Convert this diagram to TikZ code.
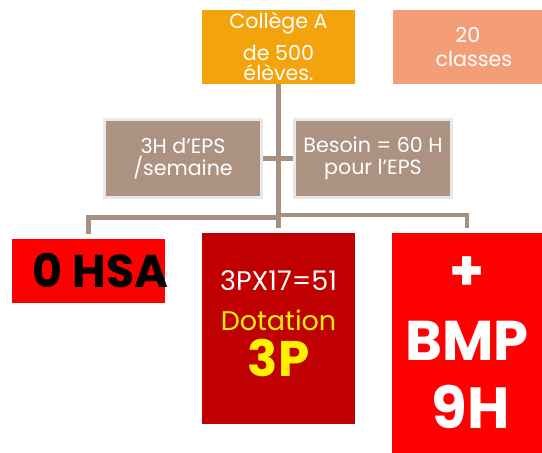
\documentclass[tikz,border=0pt]{standalone}
\usepackage{fontspec}
\setmainfont{Poppins}
\usetikzlibrary{positioning}

\definecolor{gold}{RGB}{243,164,12}
\definecolor{salmon}{RGB}{244,158,120}
\definecolor{taupe}{RGB}{172,146,128}
\definecolor{taupeline}{RGB}{168,144,128}
\definecolor{frame}{RGB}{232,232,232}
\definecolor{darkred}{RGB}{192,0,0}
\definecolor{brightred}{RGB}{255,0,0}

\begin{document}
\begin{tikzpicture}[
  x=0.5pt, y=-0.5pt,
  box/.style={rectangle, inner sep=0pt, align=center, text=white},
  topbox/.style={box, minimum height=37pt, font=\fontsize{10.3}{11}\selectfont},
  epsbox/.style={box, fill=taupe, draw=frame, line width=1.5pt, minimum width=78.5pt, minimum height=39pt, font=\fontsize{10.3}{11.2}\selectfont},
  drop/.style={draw=taupeline, line width=2.2pt, shorten >=2.2pt},
  link/.style={draw=taupeline, line width=2.2pt}
]
  \useasboundingbox (0,0) rectangle (542,453);

  \node[topbox, fill=gold, minimum width=76.5pt] (college) at (278.5,47)
    {Collège A\\[5pt]de 500\\[-1pt]élèves.};
  \node[topbox, fill=salmon, minimum width=75pt, right=18.5pt of college] (classes)
    {20\\[1pt]\hspace*{6pt}classes};

  \node[epsbox] (hebdo) at (183,158.5) {3H d’EPS\\/semaine};
  \node[epsbox] (besoin) at (373,158.5) {Besoin = 60 H\\pour l’EPS};

  \node[box, fill=brightred, minimum width=76.5pt, minimum height=32pt, text=black,
    font=\fontsize{23}{23}\selectfont\bfseries] (hsa) at (88.5,271)
    {\makebox[0pt]{\hspace*{12pt}0 HSA}};
  \node[box, fill=darkred, minimum width=76.5pt, minimum height=95.5pt,
    font=\fontsize{13.5}{20}\selectfont] (dotation) at (278.5,328.5)
    {3PX17=51\\\textcolor{yellow}{Dotation}\\[3pt]{\color{yellow}\fontsize{25}{25}\selectfont\bfseries 3P\rule[-5pt]{0pt}{0pt}}};
  \node[box, fill=brightred, minimum width=75pt, minimum height=110pt,
    font=\fontsize{28}{35}\selectfont\bfseries] (bmp) at (467,343)
    {+\\BMP\\[-1pt]{\fontsize{29}{34}\selectfont\hspace*{4pt}9H}};

  \coordinate (lsplit) at (278.5,217.5);
  \coordinate (rsplit) at (278.5,215);
  \draw[drop] (college.south) -- (lsplit) -| (hsa.north);
  \draw[drop] (lsplit) -- (dotation.north);
  \draw[drop] (rsplit) -| (bmp.north);
  \draw[link] (hebdo.east) -- (hebdo.east -| college.south);
  \draw[link] (besoin.west) -- (besoin.west -| college.south);
\end{tikzpicture}
\end{document}
